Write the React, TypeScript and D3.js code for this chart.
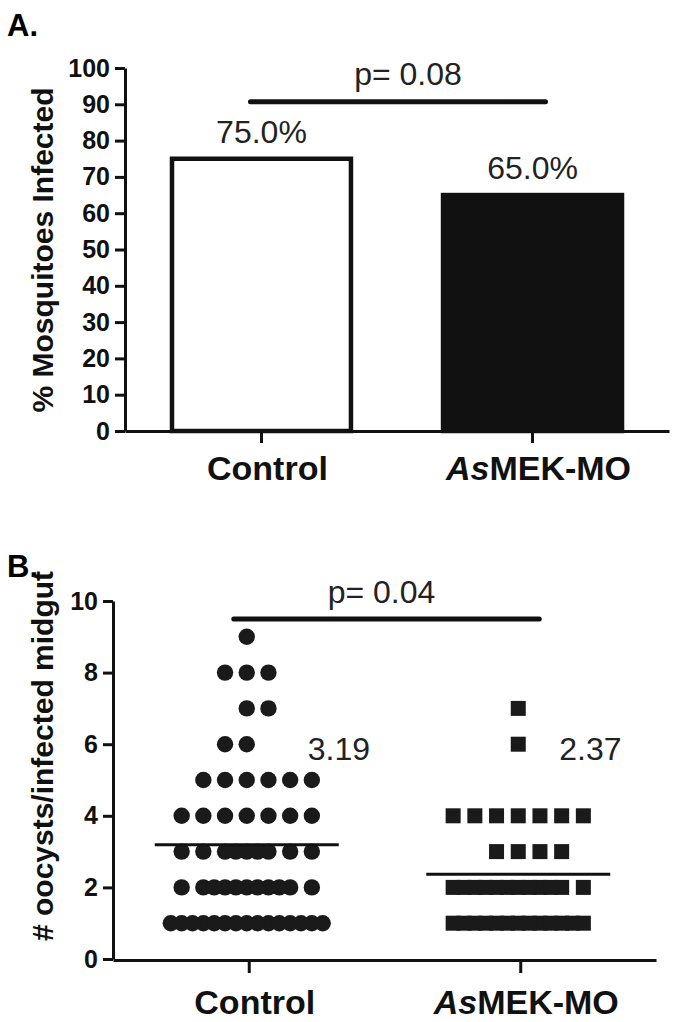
import { useEffect, useRef } from "react";
import * as d3 from "d3";

// panel A
const groups = ["Control", "AsMEK-MO"];
const pctInfected = [75.0, 65.0];
const pctTicks = [0, 10, 20, 30, 40, 50, 60, 70, 80, 90, 100];
const pValueA = "p= 0.08";

// panel B: number of midguts with each oocyst count
const oocystValues = [1, 2, 3, 4, 5, 6, 7, 8, 9];
const controlCounts = [15, 11, 9, 7, 6, 2, 2, 3, 1];
const asmekCounts = [13, 12, 4, 7, 0, 1, 1, 0, 0];
const groupMeans = [3.19, 2.37];
const oocystTicks = [0, 2, 4, 6, 8, 10];
const pValueB = "p= 0.04";

const W = 675;
const H = 1022;
const FONT = "'Liberation Sans', Arial, sans-serif";

// horizontal slots used by the dot plot (in half steps around the group centre)
function slotsFor(n: number, value: number): number[] {
  if (n <= 0) return [];
  if (n <= 7) {
    const shift = n % 2 === 0 ? (value % 2 === 1 ? 1 : -1) : 0;
    return d3.range(n).map((i) => -(n - 1) + shift + 2 * i);
  }
  const extra = [-1, 1, -3, 3, -5, 5, -7, 7, -9, 9];
  return [-6, -4, -2, 0, 2, 4, 6].concat(extra.slice(0, n - 7));
}

export default function App() {
  const svgRef = useRef<SVGSVGElement>(null);

  useEffect(() => {
    if (!svgRef.current) return;
    const svg = d3.select(svgRef.current);
    svg.selectAll("*").remove();

    const styleAxis = (g: d3.Selection<SVGGElement, unknown, null, undefined>) => {
      g.select(".domain").attr("stroke", "#111").attr("stroke-width", 3);
      g.selectAll(".tick line").attr("stroke", "#111").attr("stroke-width", 3);
      g.selectAll(".tick text")
        .attr("fill", "#111")
        .style("font-family", FONT)
        .style("font-weight", "bold")
        .style("font-size", "25px");
    };

    const groupLabel = (g: d3.Selection<SVGGElement, unknown, null, undefined>, name: string, x: number, y: number) => {
      const t = g.append("text")
        .attr("x", x)
        .attr("y", y)
        .attr("text-anchor", "middle")
        .attr("fill", "#111")
        .style("font-family", FONT)
        .style("font-weight", "bold")
        .style("font-size", "34px");
      if (name.startsWith("As")) {
        t.append("tspan").style("font-style", "italic").text("As");
        t.append("tspan").text(name.slice(2));
      } else {
        t.text(name);
      }
    };

    const note = (g: d3.Selection<SVGGElement, unknown, null, undefined>, text: string, x: number, y: number, anchor = "middle") => {
      g.append("text")
        .attr("x", x)
        .attr("y", y)
        .attr("text-anchor", anchor)
        .attr("fill", "#222")
        .style("font-family", FONT)
        .style("font-size", "32px")
        .text(text);
    };

    // ---------- Panel A ----------
    const gA = svg.append("g");
    const xA = d3.scaleBand().domain(groups).range([125, 669]).paddingInner(0.325).paddingOuter(0.166);
    const yA = d3.scaleLinear().domain([0, 100]).range([431, 68]);

    gA.append("text")
      .attr("x", 7)
      .attr("y", 36)
      .style("font-family", FONT)
      .style("font-weight", "bold")
      .style("font-size", "31px")
      .text("A.");

    gA.selectAll("rect.bar")
      .data(groups)
      .enter()
      .append("rect")
      .attr("class", "bar")
      .attr("x", (d) => xA(d)! + 2)
      .attr("y", (_, i) => yA(pctInfected[i]))
      .attr("width", xA.bandwidth() - 4)
      .attr("height", (_, i) => yA(0) - yA(pctInfected[i]))
      .attr("fill", (_, i) => (i === 0 ? "#fff" : "#111"))
      .attr("stroke", "#111")
      .attr("stroke-width", 4.5);

    gA.append("g")
      .attr("transform", `translate(125,0)`)
      .call(d3.axisLeft(yA).tickValues(pctTicks).tickSize(10).tickSizeOuter(0).tickPadding(5))
      .call(styleAxis);

    gA.append("g")
      .attr("transform", `translate(0,431)`)
      .call(d3.axisBottom(xA).tickSize(12).tickSizeOuter(0).tickFormat(() => ""))
      .call(styleAxis);

    groups.forEach((g, i) => {
      groupLabel(gA, g, xA(g)! + xA.bandwidth() / 2 + 6, 480);
      note(gA, pctInfected[i].toFixed(1) + "%", xA(g)! + xA.bandwidth() / 2, yA(pctInfected[i]) - 16);
    });

    gA.append("text")
      .attr("transform", "translate(53,250) rotate(-90)")
      .attr("text-anchor", "middle")
      .attr("fill", "#111")
      .style("font-family", FONT)
      .style("font-weight", "bold")
      .style("font-size", "30px")
      .text("% Mosquitoes Infected");

    {
      const x0 = xA(groups[0])! + xA.bandwidth() / 2 - 11;
      const x1 = xA(groups[1])! + xA.bandwidth() / 2 + 13;
      gA.append("line")
        .attr("x1", x0).attr("x2", x1)
        .attr("y1", yA(90.7)).attr("y2", yA(90.7))
        .attr("stroke", "#111").attr("stroke-width", 5).attr("stroke-linecap", "round");
      note(gA, pValueA, (x0 + x1) / 2 + 10, 85);
    }

    // ---------- Panel B ----------
    const gB = svg.append("g");
    const xB = d3.scalePoint().domain(groups).range([113, 656]).padding(0.5);
    const yB = d3.scaleLinear().domain([0, 10]).range([959, 601]);
    const halfStep = 10.85;

    gB.append("text")
      .attr("x", 7)
      .attr("y", 577)
      .style("font-family", FONT)
      .style("font-weight", "bold")
      .style("font-size", "31px")
      .text("B.");

    // control: circles
    const ctrlPts = oocystValues.flatMap((v, i) =>
      slotsFor(controlCounts[i], v).map((k) => ({ v, k }))
    );
    gB.selectAll("circle.pt")
      .data(ctrlPts)
      .enter()
      .append("circle")
      .attr("class", "pt")
      .attr("cx", (d) => xB(groups[0])! - 2 + d.k * halfStep)
      .attr("cy", (d) => yB(d.v))
      .attr("r", 8.2)
      .attr("fill", "#1a1a1a");

    // AsMEK-MO: squares
    const asPts = oocystValues.flatMap((v, i) =>
      slotsFor(asmekCounts[i], v).map((k) => ({ v, k }))
    );
    const sq = 15;
    gB.selectAll("rect.pt")
      .data(asPts)
      .enter()
      .append("rect")
      .attr("class", "pt")
      .attr("x", (d) => xB(groups[1])! - 2 + d.k * halfStep - sq / 2)
      .attr("y", (d) => yB(d.v) - sq / 2)
      .attr("width", sq)
      .attr("height", sq)
      .attr("fill", "#1a1a1a");

    // mean lines + labels
    groups.forEach((g, i) => {
      const cx = xB(g)! - 2;
      gB.append("line")
        .attr("x1", cx - 92).attr("x2", cx + 92)
        .attr("y1", yB(groupMeans[i])).attr("y2", yB(groupMeans[i]))
        .attr("stroke", "#111").attr("stroke-width", 3);
      note(gB, groupMeans[i].toFixed(2), cx + (i === 0 ? 61 : 41), 760, "start");
    });

    gB.append("g")
      .attr("transform", `translate(113,0)`)
      .call(d3.axisLeft(yB).tickValues(oocystTicks).tickSize(10).tickSizeOuter(0).tickPadding(5))
      .call(styleAxis);

    gB.append("g")
      .attr("transform", `translate(0,960)`)
      .call(d3.axisBottom(xB).tickSize(13).tickSizeOuter(0).tickFormat(() => ""))
      .call(styleAxis);

    groups.forEach((g) => {
      groupLabel(gB, g, xB(g)! + 6, 1014);
    });

    gB.append("text")
      .attr("transform", "translate(53,756) rotate(-90)")
      .attr("text-anchor", "middle")
      .attr("fill", "#111")
      .style("font-family", FONT)
      .style("font-weight", "bold")
      .style("font-size", "30px")
      .text("# oocysts/infected midgut");

    {
      const x0 = xB(groups[0])! - 15;
      const x1 = xB(groups[1])! + 19;
      gB.append("line")
        .attr("x1", x0).attr("x2", x1)
        .attr("y1", yB(9.5)).attr("y2", yB(9.5))
        .attr("stroke", "#111").attr("stroke-width", 5).attr("stroke-linecap", "round");
      note(gB, pValueB, (x0 + x1) / 2 - 5, 603);
    }
  }, []);

  return (
    <svg
      ref={svgRef}
      width={W}
      height={H}
      style={{ position: "absolute", left: 0, top: 0, background: "#fff" }}
    />
  );
}
